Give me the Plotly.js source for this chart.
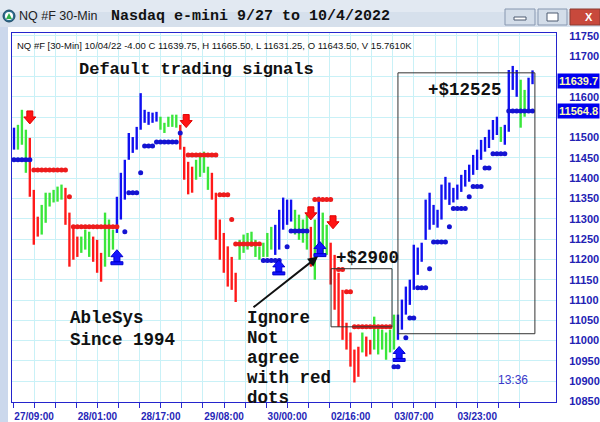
<!DOCTYPE html>
<html>
<head>
<meta charset="utf-8">
<script src="https://cdn.plot.ly/plotly-3.0.1.min.js"></script>
<style>html,body{margin:0;padding:0;background:#fff;}#chart{width:600px;height:422px;}</style>
</head>
<body>
<div id="chart"></div>
<script>
// ---- DATA (hourly bars, index 0..131) ----
const highs = [11524,11531,11568,11519,11499,11371,11305,11334,11364,11364,
11371,11379,11384,11376,11315,11280,11256,11256,11273,11268,
11256,11248,11216,11315,11298,11273,11354,11413,11445,11511,
11501,11526,11609,11568,11563,11561,11563,11551,11536,11551,
11556,11556,11531,11477,11440,11428,11445,11462,11465,11428,
11413,11364,11298,11265,11232,11206,11167,11248,11261,11265,
11268,11248,11231,11241,11265,11280,11285,11322,11352,11347,
11347,11322,11310,11298,11310,11280,11298,11354,11315,11285,
11241,11211,11167,11125,11044,11020,10978,10985,11020,11010,
11002,11059,11034,11027,11020,11027,11064,11064,11101,11133,
11150,11236,11229,11241,11347,11364,11334,11322,11384,11403,
11389,11376,11384,11408,11420,11433,11457,11470,11494,11501,
11519,11543,11551,11526,11531,11666,11676,11666,11642,11617,
11647,11665];
const lows = [11470,11470,11482,11413,11354,11236,11256,11261,11290,11330,
11340,11342,11347,11285,11182,11199,11206,11216,11224,11206,
11194,11167,11145,11182,11206,11224,11265,11298,11347,11445,
11462,11470,11519,11536,11531,11536,11539,11519,11511,11526,
11526,11524,11470,11396,11360,11364,11396,11403,11413,11371,
11347,11248,11199,11167,11133,11125,11095,11199,11216,11224,
11231,11206,11199,11206,11206,11224,11211,11224,11273,11285,
11293,11261,11248,11241,11224,11182,11150,11231,11206,11211,
11138,11076,11034,11002,10978,10936,10897,10911,10971,10961,
10966,10978,10966,10978,10953,10971,10978,11002,11027,11064,
11088,11125,11162,11194,11248,11273,11285,11278,11298,11347,
11334,11340,11347,11366,11379,11391,11408,11420,11445,11465,
11474,11494,11506,11489,11482,11514,11617,11600,11524,11551,
11568,11631];
const barState = "BGGGRRRGGGGGGRRRRGGGRRRGGGBBBBBBBBBBBGGGGGRRRRGGGGRRRRRRRGGGGGGGGGBBBBBGGGGRGBGGRRRRRRRRGRRGGGGGGBBBBBBBBBBBBBBBBBBBBBBBBBBGBBBBGGBB";

// trailing-stop dot rows: start bar, end bar, price level, side
const stopStart = [0,5,14,15,28,29,32,33,36,42,44,52,55,56,63,69,70,76,82,84,86,96,99,100,102,105,106,110,111,115,116,119,121,125];
const stopEnd   = [4,13,14,26,28,31,32,35,41,42,51,54,55,62,67,69,74,80,83,85,95,97,99,101,104,105,109,110,114,115,118,120,124,131];
const stopLevel = [11445,11420,11354,11280,11268,11364,11413,11479,11489,11511,11457,11359,11298,11238,11197,11231,11270,11347,11175,11120,11034,10936,11007,11056,11130,11177,11243,11280,11325,11354,11379,11425,11460,11565];
const stopSide  = "BRRRBBBBBBRRRRBBBRRRRBBBBBBBBBBBBB";

// signal arrows
const sellX = [4.0, 43.5, 75.0, 80.6];
const sellY = [11548, 11539, 11312, 11290];
const buyX  = [26.0, 66.9, 77.3, 97.3];
const buyY  = [11204, 11179, 11224, 10966];

// highlighted trades
const tradeX0 = [80.1, 97.0];
const tradeX1 = [95.5, 131.6];
const tradeLo = [11034, 11017];
const tradeHi = [11177, 11659];
const tradeText = ["+$2900", "+$12525"];
const tradeTextX = [89.4, 114.0];
const tradeTextY = [11204, 11617];

const timeLabels = ["27/09:00","28/01:00","28/17:00","29/08:00","30/00:00","02/16:00","03/07:00","03/23:00"];
const lastClose = 11639.75;
const stopNow = 11564.8;

// ---- helpers ----
const W = 600, H = 422, L = 12, R = 556, T = 33, B = 402;
const px = v => (v - L) / (R - L);
const py = v => (B - v) / (B - T);
const colorOf = {B:'#1010f0', R:'#ff1a1a', G:'#3ae63a'};
const stopColor = {B:'#1414d2', R:'#ee1c1c'};

const idx = highs.map((_, i) => i);

const traces = [];
traces.push({
  type: 'bar', x: idx, base: lows, y: highs.map((h, i) => h - lows[i]),
  width: 0.6, marker: {color: idx.map(i => colorOf[barState[i]]), line: {width: 0}},
  hoverinfo: 'skip', showlegend: false
});
['R', 'B'].forEach(side => {
  const xs = [], ys = [];
  stopStart.forEach((s, k) => {
    if (stopSide[k] !== side) return;
    for (let i = s; i <= stopEnd[k]; i++) { xs.push(i); ys.push(stopLevel[k]); }
    xs.push(null); ys.push(null);
  });
  traces.push({type: 'scatter', mode: 'lines+markers', x: xs, y: ys, connectgaps: false,
    line: {color: stopColor[side], width: 3}, marker: {color: stopColor[side], size: 5},
    hoverinfo: 'skip', showlegend: false});
});

const shapes = [];
// window chrome
shapes.push({type:'rect', xref:'paper', yref:'paper', x0:px(0), x1:px(8), y0:py(422), y1:py(27), fillcolor:'#cbd8ec', line:{width:0}, layer:'below'});
shapes.push({type:'rect', xref:'paper', yref:'paper', x0:px(0), x1:px(600), y0:py(27), y1:py(0), fillcolor:'#d6e0ec', line:{width:0}, layer:'below'});
shapes.push({type:'rect', xref:'paper', yref:'paper', x0:px(0), x1:px(600), y0:py(12), y1:py(0), fillcolor:'#e2e9f2', line:{width:0}, layer:'below'});
// buttons
shapes.push({type:'rect', xref:'paper', yref:'paper', x0:px(505), x1:px(535), y0:py(25), y1:py(9), fillcolor:'#d3dde9', line:{color:'#8797b0', width:1}});
shapes.push({type:'rect', xref:'paper', yref:'paper', x0:px(514), x1:px(526), y0:py(20), y1:py(17), fillcolor:'#ffffff', line:{color:'#4c5a70', width:1}});
shapes.push({type:'rect', xref:'paper', yref:'paper', x0:px(538), x1:px(567), y0:py(25), y1:py(9), fillcolor:'#d3dde9', line:{color:'#8797b0', width:1}});
shapes.push({type:'rect', xref:'paper', yref:'paper', x0:px(547), x1:px(558), y0:py(21), y1:py(13), fillcolor:'#ffffff', line:{color:'#4c5a70', width:1}});
shapes.push({type:'rect', xref:'paper', yref:'paper', x0:px(570), x1:px(600), y0:py(25), y1:py(9), fillcolor:'#c8493c', line:{color:'#8a3a30', width:1}});
// icon
shapes.push({type:'circle', xref:'paper', yref:'paper', x0:px(3), x1:px(15), y0:py(22), y1:py(10), fillcolor:'#2e6e8e', line:{color:'#1d4a66', width:1}});
shapes.push({type:'circle', xref:'paper', yref:'paper', x0:px(5), x1:px(13), y0:py(20), y1:py(12), fillcolor:'#ffffff', line:{width:0}});
shapes.push({type:'path', xref:'paper', yref:'paper', path:`M${px(6)},${py(19)} L${px(12)},${py(19)} L${px(9)},${py(13)} Z`, fillcolor:'#2fae4a', line:{width:0}});

// trade boxes
tradeX0.forEach((x0, k) => {
  shapes.push({type:'rect', xref:'x', yref:'y', x0: x0, x1: tradeX1[k], y0: tradeLo[k], y1: tradeHi[k],
    line:{color:'#333333', width:1}, fillcolor:'rgba(0,0,0,0)'});
});
// signal arrows
sellX.forEach((x, k) => {
  shapes.push({type:'path', xref:'x', yref:'y', xsizemode:'pixel', ysizemode:'pixel', xanchor:x, yanchor:sellY[k],
    path:'M-3,7 L3,7 L3,1 L6,1 L0,-6 L-6,1 L-3,1 Z', fillcolor:'#ff1414', line:{color:'#e00000', width:1}});
});
buyX.forEach((x, k) => {
  shapes.push({type:'path', xref:'x', yref:'y', xsizemode:'pixel', ysizemode:'pixel', xanchor:x, yanchor:buyY[k],
    path:'M0,8 L6,1 L3,1 L3,-4 L-3,-4 L-3,1 L-6,1 Z M-6,-4 L6,-4 L6,-7 L-6,-7 Z', fillcolor:'#1414ff', line:{color:'#0000d0', width:1}});
});

const mono = 'Liberation Mono, Courier New, monospace';
const sans = 'Liberation Sans, Arial, sans-serif';
const ann = [];
ann.push({xref:'paper', yref:'paper', x:px(17), y:py(16), xanchor:'left', yanchor:'middle', showarrow:false,
  text:'NQ #F 30-Min', font:{family:sans, size:12.5, color:'#222'}});
ann.push({xref:'paper', yref:'paper', x:px(250), y:py(16), xanchor:'center', yanchor:'middle', showarrow:false,
  text:'Nasdaq e-mini 9/27 to 10/4/2022', font:{family:mono, size:15, color:'#111', weight:'bold'}});
ann.push({xref:'paper', yref:'paper', x:px(595), y:py(17), xanchor:'right', yanchor:'middle', showarrow:false,
  text:'X', font:{family:sans, size:11, color:'#ffffff', weight:'bold'}});
ann.push({xref:'paper', yref:'paper', x:px(15), y:py(46), xanchor:'left', yanchor:'middle', showarrow:false,
  text:'NQ #F [30-Min] 10/04/22 -4.00 C 11639.75, H 11665.50, L 11631.25, O 11643.50, V 15.7610K',
  font:{family:sans, size:9.5, color:'#111'}});
ann.push({xref:'x', yref:'y', x:46, y:11666, xanchor:'center', yanchor:'middle', showarrow:false,
  text:'Default trading signals', font:{family:mono, size:17, color:'#111', weight:'bold'}});
tradeText.forEach((t, k) => ann.push({xref:'x', yref:'y', x:tradeTextX[k], y:tradeTextY[k], xanchor:'center', yanchor:'middle',
  showarrow:false, text:t, font:{family:mono, size:17.5, color:'#111', weight:'bold'}}));
[['AbleSys', 11056], ['Since 1994', 11002]].forEach(([t, y]) => ann.push({xref:'x', yref:'y', x:13.6, y:y, xanchor:'left', yanchor:'middle',
  showarrow:false, text:t, font:{family:mono, size:17.5, color:'#111', weight:'bold'}}));
[['Ignore', 11056], ['Not', 11007], ['agree', 10958], ['with red', 10909], ['dots', 10860]].forEach(([t, y]) => ann.push({xref:'x', yref:'y', x:58.4, y:y, xanchor:'left', yanchor:'middle',
  showarrow:false, text:t, font:{family:mono, size:17.5, color:'#111', weight:'bold'}}));
ann.push({xref:'x', yref:'y', x:76.8, y:11207, ax:-66, ay:52, axref:'pixel', ayref:'pixel', text:'', showarrow:true,
  arrowhead:2, arrowsize:1, arrowwidth:2, arrowcolor:'#111', standoff:0});
ann.push({xref:'x', yref:'y', x:126, y:10904, xanchor:'center', yanchor:'middle', showarrow:false,
  text:'13:36', font:{family:sans, size:12, color:'#3838c8'}});
[[lastClose, '11639.7'], [stopNow, '11564.8']].forEach(([v, t]) => ann.push({xref:'paper', yref:'y', x:px(557), y:v,
  xanchor:'left', yanchor:'middle', showarrow:false, text:t, bgcolor:'#0000f0', borderpad:1,
  font:{family:sans, size:11, color:'#fffbb0', weight:'bold'}}));

// axes ticks
const xTickVals = [], xTickText = [];
for (let j = 0; j <= 24; j++) {
  xTickVals.push(-0.253 + 5.331 * j);
  xTickText.push((j - 1) % 3 === 0 && (j - 1) / 3 < timeLabels.length ? timeLabels[(j - 1) / 3] : '');
}
const yTickVals = [], yTickText = [];
for (let v = 10850; v <= 11750; v += 50) { yTickVals.push(v); yTickText.push((v === 11550 || v === 11650) ? '' : String(v)); }

const layout = {
  width: W, height: H, margin: {l: L, r: W - R, t: T, b: H - B, pad: 0},
  paper_bgcolor: '#ffffff', plot_bgcolor: '#ffffff', showlegend: false,
  xaxis: {range: [-0.505, 136.93], tickmode: 'array', tickvals: xTickVals, ticktext: xTickText,
    ticks: 'outside', ticklen: 5, tickcolor: '#2a2ad0', tickwidth: 1, tickangle: 0,
    showgrid: true, gridcolor: '#c9f1f7', gridwidth: 1, zeroline: false,
    showline: true, linecolor: '#2424cc', linewidth: 1, mirror: true,
    tickfont: {family: sans, size: 10, color: '#2626b8', weight: 'bold'}, fixedrange: true},
  yaxis: {range: [10849, 11757], side: 'right', tickmode: 'array', tickvals: yTickVals, ticktext: yTickText,
    ticks: '', ticklabelstandoff: 10, showgrid: true, gridcolor: '#c9f1f7', gridwidth: 1, zeroline: false,
    showline: true, linecolor: '#2424cc', linewidth: 1, mirror: true,
    tickfont: {family: sans, size: 11, color: '#2222b4', weight: 'bold'}, fixedrange: true},
  shapes: shapes, annotations: ann
};
Plotly.newPlot('chart', traces, layout, {displayModeBar: false, staticPlot: true});
</script>
</body>
</html>
